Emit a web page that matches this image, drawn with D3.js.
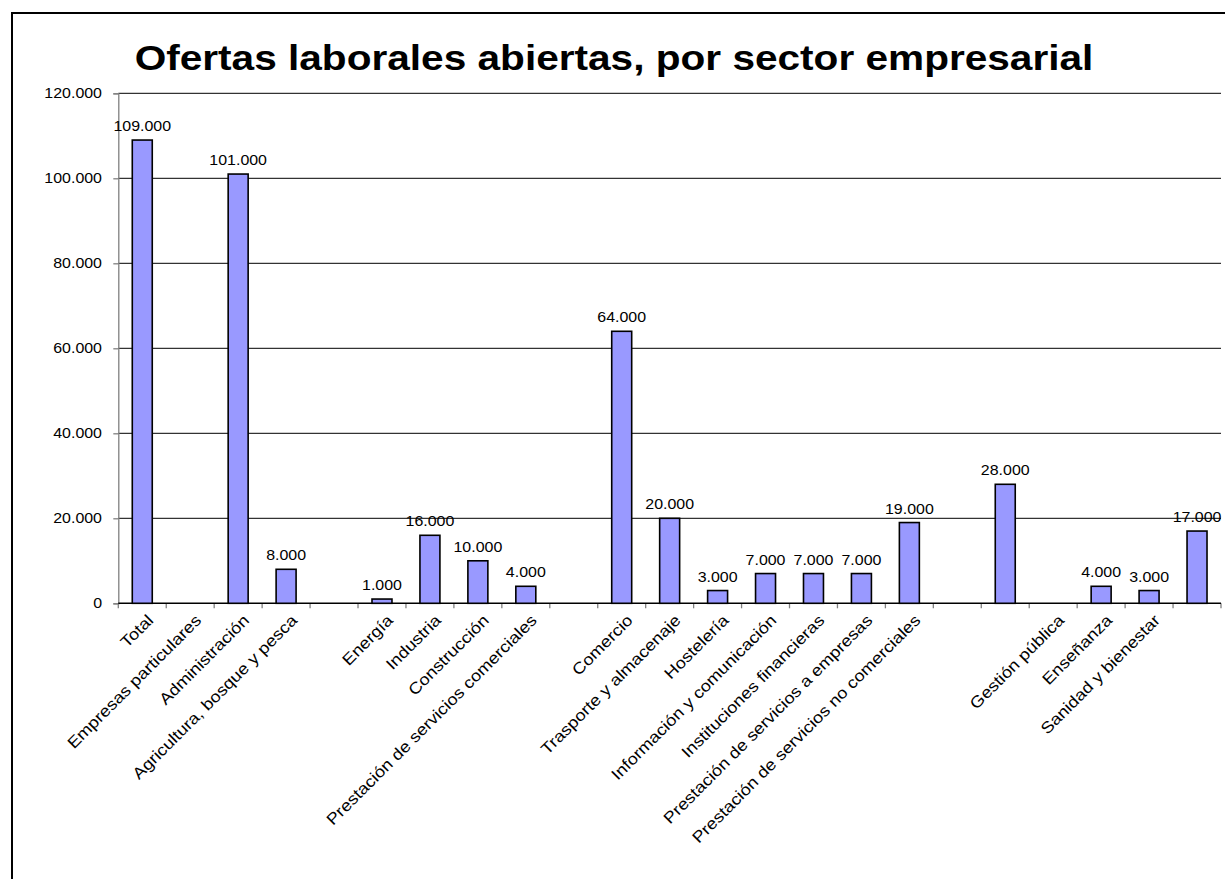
<!DOCTYPE html>
<html>
<head>
<meta charset="utf-8">
<script src="https://cdn.jsdelivr.net/npm/d3@7"></script>
<style>
  html, body { margin: 0; padding: 0; background: #fff; }
  svg { display: block; }
  text { font-family: "Liberation Sans", Arial, sans-serif; fill: #000; }
</style>
</head>
<body>
<svg id="chart" width="1225" height="879"></svg>
<script>
// ---- data ----
const title = "Ofertas laborales abiertas, por sector empresarial";
const categories = [
  "Total", "Empresas particulares", "Administración", "Agricultura, bosque y pesca", "",
  "Energía", "Industria", "Construcción", "Prestación de servicios comerciales", "",
  "Comercio", "Trasporte y almacenaje", "Hostelería", "Información y comunicación",
  "Instituciones financieras", "Prestación de servicios a empresas",
  "Prestación de servicios no comerciales", "", "", "Gestión pública",
  "Enseñanza", "Sanidad y bienestar", ""
];
const values = [
  109000, null, 101000, 8000, null,
  1000, 16000, 10000, 4000, null,
  64000, 20000, 3000, 7000,
  7000, 7000,
  19000, null, 28000, null,
  4000, 3000, 17000
];
const yTicks = [0, 20000, 40000, 60000, 80000, 100000, 120000];

// ---- layout ----
const W = 1225, H = 879;
const plot = { left: 118.3, right: 1221, top: 93.3, bottom: 603.3 };
const svg = d3.select("#chart");
svg.append("rect").attr("width", W).attr("height", H).attr("fill", "#fff");

// chart frame
svg.append("rect")
  .attr("x", 12).attr("y", 13).attr("width", 1240).attr("height", 900)
  .attr("fill", "none").attr("stroke", "#000").attr("stroke-width", 2);

const locale = d3.formatLocale({ decimal: ",", thousands: ".", grouping: [3], currency: ["", "€"] });
const fmt = locale.format(",d");

const idx = d3.range(categories.length);
const x = d3.scaleBand().domain(idx).range([plot.left, plot.right]).paddingInner(0).paddingOuter(0);
const y = d3.scaleLinear().domain([0, 120000]).range([plot.bottom, plot.top]);

const SX = 1.14; // horizontal stretch of the reference lettering

// title
svg.append("text")
  .attr("transform", `translate(614,70) scale(1.16,1)`)
  .attr("text-anchor", "middle")
  .attr("font-weight", "bold")
  .attr("font-size", 35)
  .text(title);

// gridlines
svg.append("g").selectAll("line").data(yTicks.filter(d => d > 0)).join("line")
  .attr("x1", plot.left).attr("x2", plot.right)
  .attr("y1", d => y(d)).attr("y2", d => y(d))
  .attr("stroke", "#000").attr("stroke-width", 1);

// y axis
const yAxis = d3.axisLeft(y).tickValues(yTicks).tickSize(5).tickFormat("");
const gy = svg.append("g").attr("transform", `translate(${plot.left},0)`).call(yAxis);
gy.select(".domain").attr("stroke", "#808080").attr("stroke-width", 1.3);
gy.selectAll(".tick line").attr("stroke", "#808080").attr("stroke-width", 1.3);
svg.append("g").selectAll("text").data(yTicks).join("text")
  .attr("transform", d => `translate(102,${y(d)}) scale(${SX},1)`)
  .attr("dy", "0.36em")
  .attr("text-anchor", "end")
  .attr("font-size", 14)
  .text(d => fmt(d));

// x axis ticks at category boundaries
const bounds = d3.range(categories.length + 1).map(i => plot.left + i * x.step());
svg.append("g").selectAll("line").data(bounds).join("line")
  .attr("x1", d => d).attr("x2", d => d)
  .attr("y1", plot.bottom).attr("y2", plot.bottom + 5)
  .attr("stroke", "#808080").attr("stroke-width", 1.3);
svg.append("line")
  .attr("x1", plot.left).attr("x2", plot.right)
  .attr("y1", plot.bottom).attr("y2", plot.bottom)
  .attr("stroke", "#000").attr("stroke-width", 1.5);

// bars
const barW = x.bandwidth() / 2.4;
const data = idx.map(i => ({ i, v: values[i] })).filter(d => d.v != null);
svg.append("g").selectAll("rect").data(data).join("rect")
  .attr("x", d => x(d.i) + (x.bandwidth() - barW) / 2)
  .attr("y", d => y(d.v))
  .attr("width", barW)
  .attr("height", d => y(0) - y(d.v))
  .attr("fill", "#9999FF")
  .attr("stroke", "#000")
  .attr("stroke-width", 1.6);

// data labels
svg.append("g").selectAll("text").data(data).join("text")
  .attr("transform", d => `translate(${x(d.i) + x.bandwidth() / 2},${y(d.v) - 9}) scale(${SX},1)`)
  .attr("text-anchor", "middle")
  .attr("font-size", 14)
  .text(d => fmt(d.v));

// category labels (rotated -45°)
svg.append("g").selectAll("text").data(idx.filter(i => categories[i] !== "")).join("text")
  .attr("transform", i => `translate(${x(i) + x.bandwidth() / 2 + 12},${plot.bottom + 18}) rotate(-45) scale(${SX},1)`)
  .attr("text-anchor", "end")
  .attr("font-size", 16)
  .text(i => categories[i]);
</script>
</body>
</html>
